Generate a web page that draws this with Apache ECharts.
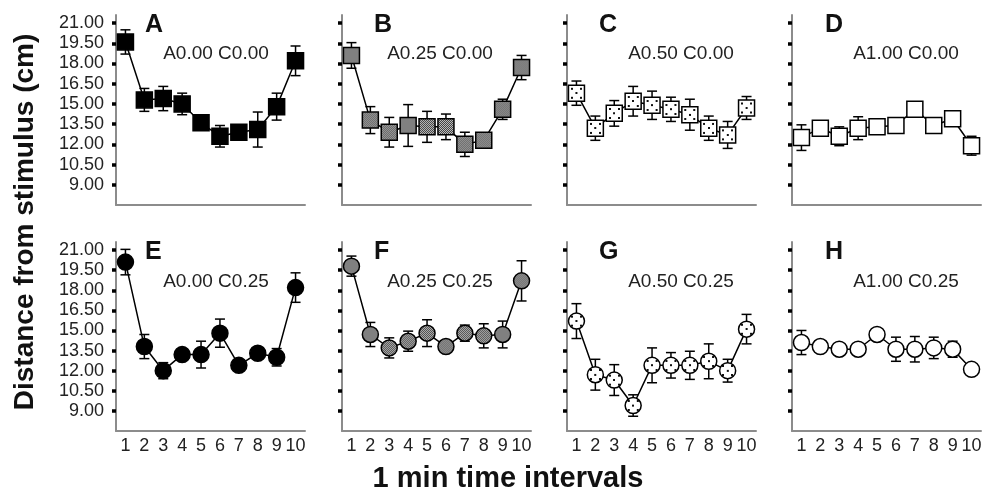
<!DOCTYPE html>
<html>
<head>
    <meta charset="utf-8">
    <title>Distance from stimulus</title>
    <style>
        html,body{margin:0;padding:0;background:#fff;}
    </style>
</head>
<body>
<div id="main" style="width:990px;height:496px;"></div>
<script src="https://cdn.jsdelivr.net/npm/echarts@6/dist/echarts.min.js"></script>
<script type="text/javascript">
    // x categories and y tick values
    var timeLabels = ['1', '2', '3', '4', '5', '6', '7', '8', '9', '10'];
    var yTicks = [9, 10.5, 12, 13.5, 15, 16.5, 18, 19.5, 21];

    // mean distance per panel
    var meanA = [19.6, 15.3, 15.4, 15.0, 13.6, 12.6, 12.9, 13.1, 14.8, 18.2];
    var meanB = [18.6, 13.8, 12.9, 13.4, 13.3, 13.3, 12.0, 12.3, 14.6, 17.7];
    var meanC = [15.8, 13.2, 14.3, 15.2, 14.9, 14.6, 14.2, 13.2, 12.7, 14.7];
    var meanD = [12.5, 13.2, 12.6, 13.2, 13.3, 13.4, 14.6, 13.4, 13.9, 11.9];
    var meanE = [20.1, 13.8, 12.0, 13.2, 13.2, 14.8, 12.4, 13.3, 13.0, 18.2];
    var meanF = [19.8, 14.7, 13.7, 14.2, 14.8, 13.8, 14.8, 14.6, 14.7, 18.7];
    var meanG = [15.7, 11.7, 11.3, 9.4, 12.4, 12.4, 12.4, 12.7, 12.0, 15.1];
    var meanH = [14.1, 13.8, 13.6, 13.6, 14.7, 13.6, 13.6, 13.7, 13.6, 12.1];

    // error bar half-lengths
    var errA = [0.9, 0.85, 0.9, 0.8, 0.3, 0.8, 0.3, 1.3, 1.0, 1.1];
    var errB = [0.95, 1.0, 1.1, 1.55, 1.15, 0.95, 0.9, 0.4, 0.75, 0.9];
    var errC = [0.9, 0.9, 0.95, 1.1, 1.05, 0.9, 1.15, 0.9, 1.0, 0.85];
    var errD = [0.95, 0.3, 0.7, 0.85, 0.4, 0.5, 0.3, 0.2, 0.3, 0.7];
    var errE = [0.95, 0.9, 0.6, 0.4, 1.0, 1.05, 0.3, 0.4, 0.65, 1.1];
    var errF = [0.75, 0.9, 0.75, 0.75, 1.0, 0.3, 0.6, 0.9, 1.0, 1.5];
    var errG = [1.3, 1.15, 1.15, 0.8, 1.3, 0.95, 1.05, 1.3, 0.85, 1.1];
    var errH = [0.9, 0.3, 0.3, 0.3, 0.3, 0.9, 0.95, 0.8, 0.6, 0.3];

    var letters = ['A', 'B', 'C', 'D', 'E', 'F', 'G', 'H'];
    var captions = ['A0.00 C0.00', 'A0.25 C0.00', 'A0.50 C0.00', 'A1.00 C0.00',
                    'A0.00 C0.25', 'A0.25 C0.25', 'A0.50 C0.25', 'A1.00 C0.25'];
    var means = [meanA, meanB, meanC, meanD, meanE, meanF, meanG, meanH];
    var errs = [errA, errB, errC, errD, errE, errF, errG, errH];

    var markSize = 16;
    // symbols are drawn as 2x2 paths scaled up, so undo that scale on the patterns
    var patScale = 2 / markSize;

    function checkerPattern() {
        var c = document.createElement('canvas');
        c.width = 2; c.height = 2;
        var ctx = c.getContext('2d');
        ctx.fillStyle = '#d0d0d0'; ctx.fillRect(0, 0, 2, 2);
        ctx.fillStyle = '#303030'; ctx.fillRect(0, 0, 1, 1); ctx.fillRect(1, 1, 1, 1);
        return {image: c, repeat: 'repeat', scaleX: patScale, scaleY: patScale};
    }
    // five-dot (dice) look: dots at the centre and on a 4.5px diagonal grid
    function dotPattern() {
        var c = document.createElement('canvas');
        c.width = 18; c.height = 18;
        var ctx = c.getContext('2d');
        ctx.fillStyle = '#ffffff'; ctx.fillRect(0, 0, 18, 18);
        ctx.fillStyle = '#111111';
        ctx.fillRect(7, 7, 4, 4);
        ctx.fillRect(0, 0, 2, 2); ctx.fillRect(16, 0, 2, 2);
        ctx.fillRect(0, 16, 2, 2); ctx.fillRect(16, 16, 2, 2);
        return {image: c, repeat: 'repeat', scaleX: patScale / 2, scaleY: patScale / 2};
    }
    var fills = ['#000', checkerPattern(), dotPattern(), '#fff'];

    var colLeft = [116, 342, 567, 792];
    var rowTop = [15, 242];
    var gridW = 189;
    var captionX = [216, 440, 681, 906];
    var letterX = [145, 374, 599, 825];

    var grids = [], xAxes = [], yAxes = [], series = [], graphics = [];

    for (var i = 0; i < 8; i++) {
        var row = Math.floor(i / 4), col = i % 4;
        grids.push({left: colLeft[col], top: rowTop[row], width: gridW, height: row ? 189 : 190});
        xAxes.push({
            type: 'category', gridIndex: i, data: timeLabels, boundaryGap: true,
            axisLine: {lineStyle: {color: '#8c8c8c', width: 2}},
            axisTick: {alignWithLabel: true, length: 4, lineStyle: {color: '#000', width: 3.5}},
            axisLabel: {show: row === 1, interval: 0, margin: 6, fontSize: 18,
                        fontFamily: 'Liberation Sans', color: '#222', hideOverlap: false},
            splitLine: {show: false}
        });
        yAxes.push({
            type: 'value', gridIndex: i, min: 7.5, max: 21.6,
            axisLine: {show: true, lineStyle: {color: '#8c8c8c', width: 2}},
            axisTick: {show: true, length: 4, customValues: yTicks, lineStyle: {color: '#000', width: 3.5}},
            axisLabel: {show: col === 0, customValues: yTicks, margin: 12, fontSize: 18,
                        fontFamily: 'Liberation Sans', color: '#222',
                        formatter: function (v) { return v.toFixed(2); }},
            splitLine: {show: false}
        });

        var errData = means[i].map(function (m, k) { return [k, m, errs[i][k]]; });
        series.push({
            type: 'custom', xAxisIndex: i, yAxisIndex: i, z: 2,
            data: errData,
            renderItem: function (params, api) {
                var x = api.value(0), m = api.value(1), e = api.value(2);
                var top = api.coord([x, m + e]);
                var bot = api.coord([x, m - e]);
                var hw = 5;
                var st = {stroke: '#000', lineWidth: 1.5};
                return {type: 'group', children: [
                    {type: 'line', shape: {x1: top[0], y1: top[1], x2: bot[0], y2: bot[1]}, style: st},
                    {type: 'line', shape: {x1: top[0] - hw, y1: top[1], x2: top[0] + hw, y2: top[1]}, style: st},
                    {type: 'line', shape: {x1: bot[0] - hw, y1: bot[1], x2: bot[0] + hw, y2: bot[1]}, style: st}
                ]};
            }
        });
        series.push({
            type: 'line', xAxisIndex: i, yAxisIndex: i, z: 3,
            data: means[i],
            symbol: row ? 'circle' : 'rect',
            symbolSize: markSize,
            showSymbol: true,
            showAllSymbol: true,
            lineStyle: {color: '#000', width: 1.5},
            itemStyle: {color: fills[col], borderColor: '#000', borderWidth: 1.5},
            emphasis: {disabled: true},
            animation: false
        });

        graphics.push({
            type: 'text', left: letterX[col], top: rowTop[row] - 2,
            style: {text: letters[i], font: 'bold 25px "Liberation Sans"', fill: '#111'}
        });
        graphics.push({
            type: 'text', x: captionX[col], y: row ? 282 : 54,
            style: {text: captions[i], font: '19px "Liberation Sans"', fill: '#222',
                    align: 'center', verticalAlign: 'middle'}
        });
    }

    graphics.push({
        type: 'text', x: 25, y: 222, rotation: Math.PI / 2,
        style: {text: 'Distance from stimulus (cm)', font: 'bold 28px "Liberation Sans"',
                fill: '#111', align: 'center', verticalAlign: 'middle'}
    });
    graphics.push({
        type: 'text', x: 508, y: 479,
        style: {text: '1 min time intervals', font: 'bold 29px "Liberation Sans"',
                fill: '#111', align: 'center', verticalAlign: 'middle'}
    });

    var myChart = echarts.init(document.getElementById('main'));
    myChart.setOption({
        animation: false,
        grid: grids,
        xAxis: xAxes,
        yAxis: yAxes,
        series: series,
        graphic: graphics
    });
</script>
</body>
</html>
